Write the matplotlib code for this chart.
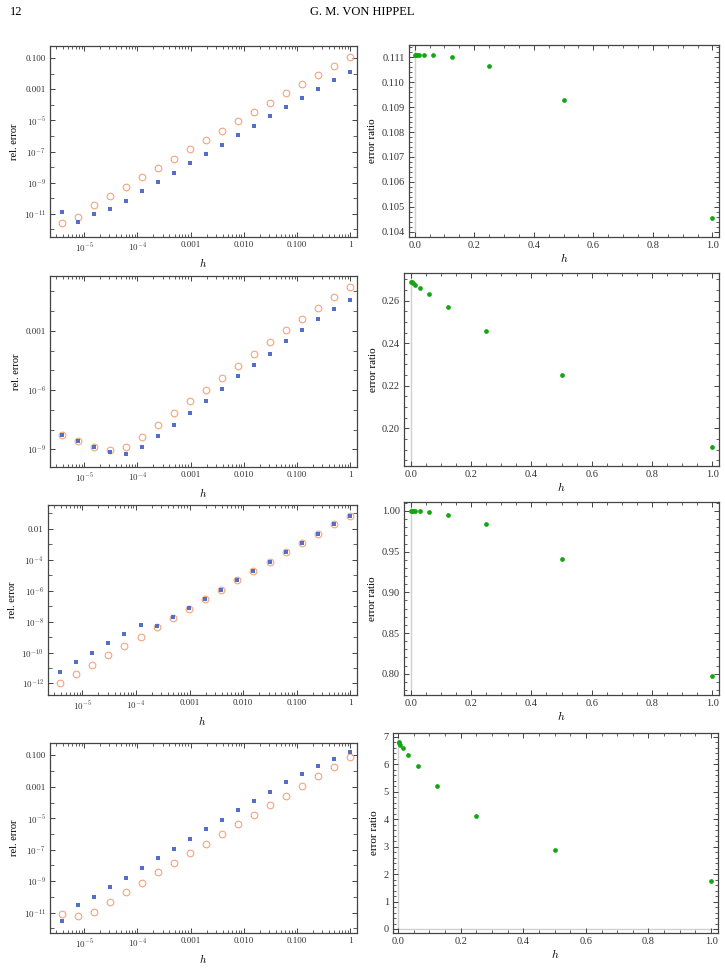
import numpy as np
import matplotlib
matplotlib.use('Agg')
import matplotlib.pyplot as plt
from matplotlib.ticker import FixedLocator, FuncFormatter

plt.rcParams['font.family'] = ['Liberation Serif', 'DejaVu Serif']
plt.rcParams['mathtext.fontset'] = 'cm'

# step sizes h = 2^0 ... 2^-18
h = 2.0 ** -np.arange(19)

# log10 of relative errors (h = 1 first)
p1_blue = [-1.86, -2.41, -2.99, -3.57, -4.15, -4.73, -5.37, -5.95, -6.59, -7.17,
           -7.75, -8.39, -8.97, -9.54, -10.18, -10.70, -11.00, -11.54, -10.89]
p1_orange = [-0.94, -1.49, -2.07, -2.65, -3.25, -3.87, -4.45, -5.03, -5.65, -6.25,
             -6.82, -7.47, -8.04, -8.62, -9.27, -9.84, -10.42, -11.19, -11.62]
p2_blue = [-1.45, -1.90, -2.43, -2.98, -3.54, -4.15, -4.71, -5.31, -5.92, -6.53,
           -7.14, -7.75, -8.30, -8.86, -9.22, -9.13, -8.86, -8.57, -8.25]
p2_orange = [-0.77, -1.29, -1.85, -2.41, -2.97, -3.57, -4.18, -4.79, -5.40, -5.99,
             -6.56, -7.17, -7.78, -8.37, -8.88, -9.05, -8.88, -8.57, -8.27]
p3_blue = [-1.18, -1.70, -2.32, -2.90, -3.51, -4.13, -4.71, -5.31, -5.94, -6.52,
           -7.14, -7.72, -8.30, -8.24, -8.82, -9.40, -10.04, -10.62, -11.27]
p3_orange = [-1.14, -1.70, -2.34, -2.92, -3.51, -4.13, -4.73, -5.31, -5.94, -6.54,
             -7.16, -7.74, -8.34, -8.99, -9.57, -10.15, -10.80, -11.38, -11.96]
p4_blue = [-0.81, -1.23, -1.70, -2.19, -2.70, -3.30, -3.91, -4.49, -5.13, -5.70,
           -6.34, -6.98, -7.55, -8.19, -8.77, -9.40, -10.04, -10.49, -11.53]
p4_orange = [-1.11, -1.72, -2.32, -2.94, -3.57, -4.17, -4.81, -5.38, -6.02, -6.64,
             -7.23, -7.87, -8.45, -9.09, -9.72, -10.30, -10.98, -11.23, -11.11]

# error ratios (h = 1, 1/2, ..., 1/512)
h_ratio = 2.0 ** -np.arange(10)
ratio1 = [0.10455, 0.10930, 0.11065, 0.11100, 0.11109, 0.11111, 0.11111, 0.11111, 0.11111, 0.11111]
ratio2 = [0.1913, 0.2253, 0.2458, 0.2570, 0.2630, 0.2659, 0.2673, 0.2681, 0.2686, 0.2689]
ratio3 = [0.7967, 0.9404, 0.9841, 0.9955, 0.9988, 0.9996, 0.9999, 1.0, 1.0, 1.0]
ratio4 = [1.74, 2.87, 4.13, 5.20, 5.93, 6.35, 6.59, 6.71, 6.78, 6.82]

left_data = [(p1_blue, p1_orange), (p2_blue, p2_orange), (p3_blue, p3_orange), (p4_blue, p4_orange)]
right_data = [ratio1, ratio2, ratio3, ratio4]

# labelled decades (exponents) and axis limits, in log10
left_major = [[-1, -3, -5, -7, -9, -11], [-3, -6, -9], [-2, -4, -6, -8, -10, -12], [-1, -3, -5, -7, -9, -11]]
left_ylim = [(-0.21, -12.5), (-0.23, -9.89), (-0.45, -12.75), (-0.21, -12.3)]
small_labels = {-1: '0.100', -2: '0.01', -3: '0.001'}
x_labels = {0: '1', -1: '0.100', -2: '0.010', -3: '0.001', -4: r'$10^{-4}$', -5: r'$10^{-5}$'}

right_ylim = [(0.10378, 0.1115), (0.1823, 0.273), (0.7739, 1.011), (-0.146, 7.14)]
right_yticks = [[0.104, 0.105, 0.106, 0.107, 0.108, 0.109, 0.110, 0.111],
                [0.20, 0.22, 0.24, 0.26],
                [0.80, 0.85, 0.90, 0.95, 1.00],
                [0, 1, 2, 3, 4, 5, 6, 7]]
right_fmt = ['%.3f', '%.2f', '%.2f', '%d']
right_minor = [0.0002, 0.005, 0.01, 0.2]
right_xmin = [-0.019, -0.022, -0.022, -0.016]

# axes boxes in pixels: (left, top, right, bottom)
W, H = 725, 968
left_box = [(50, 46, 357, 237), (50, 276, 357, 467), (48, 505, 357, 695), (50, 743, 357, 933)]
right_box = [(409, 45, 719, 237), (404, 273, 719, 466), (404, 502, 719, 695), (393, 733, 718, 933)]

BLUE = '#5470C6'
ORANGE = '#F4A47C'
GREEN = '#12A612'


def make_ax(fig, box, fs):
    l, t, r, b = box
    ax = fig.add_axes([l / W, 1 - b / H, (r - l) / W, (b - t) / H])
    for s in ax.spines.values():
        s.set_color('#444444')
        s.set_linewidth(0.9)
    ax.tick_params(which='both', direction='in', top=True, right=True,
                   labelsize=fs, colors='#444444', labelcolor='#333333', pad=3)
    ax.tick_params(which='major', length=3.5, width=0.7)
    ax.tick_params(which='minor', length=2, width=0.6)
    return ax


def dec_label(e):
    return small_labels.get(e, r'$10^{%d}$' % e)


fig = plt.figure(figsize=(W / 100, H / 100), dpi=100)

fig.text(10 / W, 1 - 12 / H, '12', fontsize=9, va='center', ha='left')
fig.text(0.5, 1 - 12 / H, 'G. M. VON HIPPEL', fontsize=9, va='center', ha='center')

for i in range(4):
    ax = make_ax(fig, left_box[i], 6.5)
    blue, orange = left_data[i]
    ax.plot(h, 10.0 ** np.array(orange), 'o', mfc='none', mec=ORANGE, ms=4.8, mew=0.8, zorder=2)
    ax.plot(h, 10.0 ** np.array(blue), 's', color=BLUE, ms=3.1, mew=0, zorder=3)
    ax.set_xscale('log')
    ax.set_yscale('log')
    ax.set_xlim(10 ** -5.64, 10 ** 0.125)
    lo, hi = left_ylim[i]
    ax.set_ylim(10 ** hi, 10 ** lo)

    ax.xaxis.set_major_locator(FixedLocator([10.0 ** k for k in range(-5, 1)]))
    ax.xaxis.set_minor_locator(FixedLocator([m * 10.0 ** k for k in range(-6, 1) for m in range(2, 10)]))
    ax.xaxis.set_major_formatter(FuncFormatter(lambda v, p: x_labels.get(int(round(np.log10(v))), '')))
    ax.xaxis.set_minor_formatter(FuncFormatter(lambda v, p: ''))

    majors = left_major[i]
    minors = [e for e in range(-13, 1) if e not in majors]
    ax.yaxis.set_major_locator(FixedLocator([10.0 ** e for e in majors]))
    ax.yaxis.set_minor_locator(FixedLocator([10.0 ** e for e in minors]))
    ax.yaxis.set_major_formatter(FuncFormatter(lambda v, p: dec_label(int(round(np.log10(v))))))
    ax.yaxis.set_minor_formatter(FuncFormatter(lambda v, p: ''))
    ax.tick_params(axis='y', which='minor', length=3)

    ax.set_xlabel(r'$h$', fontsize=8, labelpad=1)
    ax.set_ylabel('rel. error', fontsize=7.5, labelpad=3)

for i in range(4):
    ax = make_ax(fig, right_box[i], 7.5)
    ax.axvline(0, color='#d0d0d0', lw=1.0, zorder=0)
    if i == 3:
        ax.axhline(0, color='#d0d0d0', lw=1.0, zorder=0)
    ax.plot(h_ratio, right_data[i], 'o', color=GREEN, ms=3.4, mew=0, zorder=3)
    ax.set_xlim(right_xmin[i], 1.022)
    ax.set_ylim(*right_ylim[i])
    ax.xaxis.set_major_locator(FixedLocator([0, 0.2, 0.4, 0.6, 0.8, 1.0]))
    ax.xaxis.set_minor_locator(FixedLocator(np.arange(0, 1.001, 0.05)))
    ax.xaxis.set_major_formatter(FuncFormatter(lambda v, p: '%.1f' % v))
    ax.yaxis.set_major_locator(FixedLocator(right_yticks[i]))
    step = right_minor[i]
    ax.yaxis.set_minor_locator(FixedLocator(np.arange(right_ylim[i][0] // step * step, right_ylim[i][1], step)))
    fmt = right_fmt[i]
    ax.yaxis.set_major_formatter(FuncFormatter(lambda v, p, fmt=fmt: fmt % v))
    ax.set_xlabel(r'$h$', fontsize=8.5, labelpad=1)
    ax.set_ylabel('error ratio', fontsize=8, labelpad=3)

fig.savefig('out.png', dpi=100)
